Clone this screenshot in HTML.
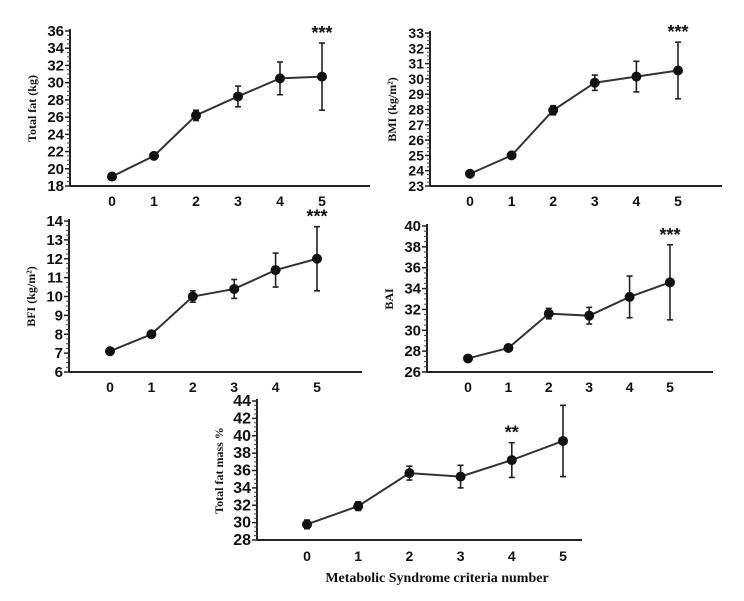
<!DOCTYPE html>
<html><head><meta charset="utf-8"><style>
body{margin:0;background:#fff;width:744px;height:596px;overflow:hidden}
svg text{font-family:"Liberation Sans",Arial,sans-serif;font-weight:bold;fill:#111}
svg text.serif{font-family:"Liberation Serif",serif}
</style></head><body>
<svg id="s" width="744" height="596" viewBox="0 0 744 596"></svg>
<script>
const categories=[0,1,2,3,4,5];
const totalFat=[19.1,21.5,26.2,28.4,30.5,30.7];
const totalFatErr=[0.2,0.3,0.6,1.2,1.9,3.9];
const bmi=[23.8,25.0,27.95,29.75,30.15,30.55];
const bmiErr=[0.1,0.1,0.3,0.5,1.0,1.85];
const bfi=[7.1,8.0,10.0,10.4,11.4,12.0];
const bfiErr=[0.1,0.1,0.3,0.5,0.9,1.7];
const bai=[27.3,28.3,31.6,31.4,33.2,34.6];
const baiErr=[0.1,0.1,0.5,0.8,2.0,3.6];
const fatMass=[29.8,31.9,35.7,35.3,37.2,39.4];
const fatMassErr=[0.5,0.5,0.8,1.3,2.0,4.1];
const totalFatTicks=[18,20,22,24,26,28,30,32,34,36];
const bmiTicks=[23,24,25,26,27,28,29,30,31,32,33];
const bfiTicks=[6,7,8,9,10,11,12,13,14];
const baiTicks=[26,28,30,32,34,36,38,40];
const fatMassTicks=[28,30,32,34,36,38,40,42,44];
const sigLabels=["***","***","***","***","**"];
const sigIndex=[5,5,5,5,4];

const NS="http://www.w3.org/2000/svg";
const svg=document.getElementById('s');
function mk(tag,attrs,parent){const e=document.createElementNS(NS,tag);for(const k in attrs)e.setAttribute(k,attrs[k]);(parent||svg).appendChild(e);return e;}

const panels=[
 {name:'total-fat',vals:totalFat,err:totalFatErr,ticks:totalFatTicks,ax:70,top:31,bot:186,x0:112,x5:322,xend:370,lbl:200,title:'Total fat (kg)',sig:0,fs:15},
 {name:'bmi',vals:bmi,err:bmiErr,ticks:bmiTicks,ax:430,top:33,bot:186,x0:470,x5:678,xend:722,lbl:200,title:'BMI (kg/m²)',sig:1,fs:14},
 {name:'bfi',vals:bfi,err:bfiErr,ticks:bfiTicks,ax:69,top:221,bot:372,x0:110,x5:317,xend:362,lbl:386,title:'BFI (kg/m²)',sig:2,fs:15},
 {name:'bai',vals:bai,err:baiErr,ticks:baiTicks,ax:427,top:226,bot:372,x0:468,x5:670,xend:713,lbl:386,title:'BAI',sig:3,fs:15},
 {name:'total-fat-mass',vals:fatMass,err:fatMassErr,ticks:fatMassTicks,ax:257,top:401,bot:540,x0:307,x5:563,xend:582,lbl:555,title:'Total fat mass %',sig:4,fs:16}
];

panels.forEach(p=>{
 const g=mk('g',{});
 
 
 const tmin=p.ticks[0],tmax=p.ticks[p.ticks.length-1];
 const y=v=>p.bot-(v-tmin)/(tmax-tmin)*(p.bot-p.top);
 const x=i=>p.x0+(categories[i]-categories[0])/(categories[5]-categories[0])*(p.x5-p.x0);
 const ya=mk('line',{x1:p.ax,y1:p.top-2,x2:p.ax,y2:p.bot,stroke:'#222','stroke-width':2},g);
 
 const xa=mk('line',{x1:p.ax,y1:p.bot,x2:p.xend,y2:p.bot,stroke:'#222','stroke-width':2},g);
 
 p.ticks.forEach((t,k)=>{
  mk('line',{x1:p.ax-5,y1:y(t),x2:p.ax,y2:y(t),stroke:'#222','stroke-width':1.5},g);
  if(k<p.ticks.length-1){const step=(p.ticks[k+1]-t)/4;for(let m=1;m<4;m++)mk('line',{x1:p.ax-3,y1:y(t+m*step),x2:p.ax,y2:y(t+m*step),stroke:'#444','stroke-width':1},g);}
  const tl=mk('text',{x:p.ax-6,y:y(t)+5,'text-anchor':'end','font-size':p.fs},g);tl.textContent=t;
  
 });
 categories.forEach((c,i)=>{
  const tl=mk('text',{x:x(i),y:p.lbl+6,'text-anchor':'middle','font-size':14},g);tl.textContent=c;
  
 });
 const tt=mk('text',{x:0,y:0,'class':'serif','text-anchor':'middle','font-size':12,transform:`translate(${p.ax-34},${(p.top+p.bot)/2}) rotate(-90)`},g);
 tt.textContent=p.title;
 const pts=p.vals.map((v,i)=>x(i)+','+y(v)).join(' ');
 const ln=mk('polyline',{points:pts,fill:'none',stroke:'#333','stroke-width':2},g);
 
 p.vals.forEach((v,i)=>{
  const e=p.err[i];
  const eb=mk('g',{stroke:'#222','stroke-width':1.6},g);
  
  mk('line',{x1:x(i),y1:y(v+e),x2:x(i),y2:y(v-e)},eb);
  mk('line',{x1:x(i)-3,y1:y(v+e),x2:x(i)+3,y2:y(v+e)},eb);
  mk('line',{x1:x(i)-3,y1:y(v-e),x2:x(i)+3,y2:y(v-e)},eb);
  const c=mk('circle',{cx:x(i),cy:y(v),r:5,fill:'#111'},g);
  
 });
 const si=sigIndex[p.sig];
 const st=mk('text',{x:x(si),y:y(p.vals[si]+p.err[si])-4,'text-anchor':'middle','font-size':18},g);
 st.textContent=sigLabels[p.sig];
});
const xt=mk('text',{x:437,y:582,'class':'serif','text-anchor':'middle','font-size':14});
xt.textContent='Metabolic Syndrome criteria  number';


</script>
</body></html>
